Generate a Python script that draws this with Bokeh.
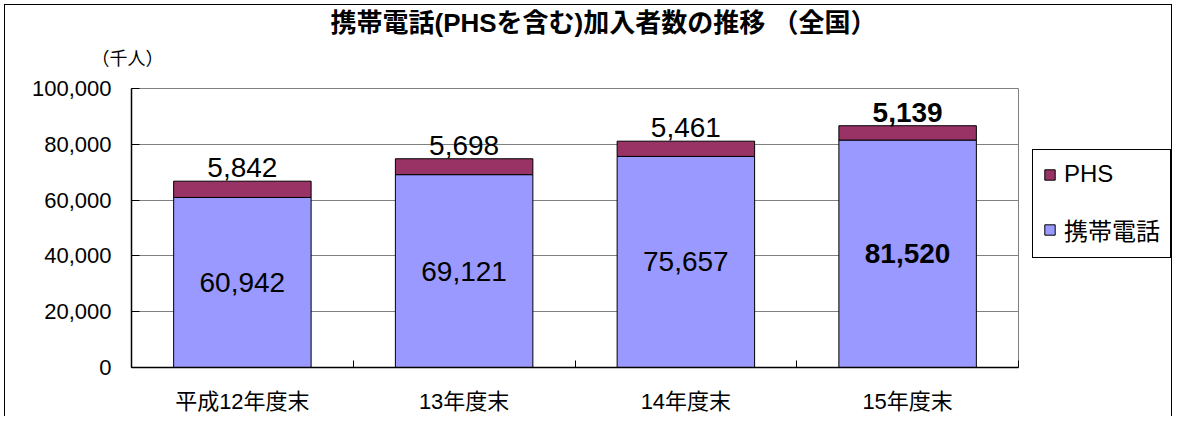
from bokeh.plotting import figure
from bokeh.layouts import row
from bokeh.models import (ColumnDataSource, Range1d, FixedTicker, NumeralTickFormatter,
                          LabelSet, Title, Legend, LegendItem)
from bokeh.core.properties import value, field
from bokeh.embed import file_html
from bokeh.resources import INLINE

categories = ["平成12年度末", "13年度末", "14年度末", "15年度末"]
mobile = [60942, 69121, 75657, 81520]
phs = [5842, 5698, 5461, 5139]
y_ticks = [0, 20000, 40000, 60000, 80000, 100000]

title_text = "携帯電話(PHSを含む)加入者数の推移 （全国）"
unit_text = "（千人）"
series_names = ["携帯電話", "PHS"]

BLUE = "#9999FF"
PURPLE = "#993366"
LAT = "Liberation Sans"
FONT = "'Liberation Sans', 'Noto Sans CJK JP'"

W, H = 1172, 416
W1 = 1030
ML, MT = 131, 88
MR = W1 - 1018
MB = H - 372

n = len(categories)
xs = [i + 0.5 for i in range(n)]
src = ColumnDataSource(dict(
    x=xs, cat=categories, mobile=mobile, phs=phs,
    mid=[m / 2 for m in mobile],
    top=[m + q for m, q in zip(mobile, phs)],
    mobile_lbl=[f"{v:,}" for v in mobile],
    phs_lbl=[f"{v:,}" for v in phs],
    style=["normal"] * (n - 1) + ["bold"],
))

p = figure(width=W1, height=H, output_backend="svg", toolbar_location=None,
           x_range=Range1d(0, n), y_range=Range1d(0, 100000),
           min_border_left=ML, min_border_right=MR, min_border_top=MT,
           min_border_bottom=MB, title=None)
p.background_fill_color = "white"
p.border_fill_color = None
p.outline_line_color = "#808080"
p.outline_line_width = 1

rs = p.vbar_stack(["mobile", "phs"], x="x", width=0.62, source=src,
                  fill_color=[BLUE, PURPLE], line_color="black", line_width=1)

# axes
p.xgrid.visible = False
p.ygrid.grid_line_color = "#808080"
p.ygrid.grid_line_width = 1

ya = p.yaxis[0]
ya.ticker = FixedTicker(ticks=y_ticks)
ya.formatter = NumeralTickFormatter(format="0,0")
ya.major_tick_in = 8
ya.major_tick_out = 0
ya.minor_tick_line_color = None
ya.axis_line_color = "black"
ya.axis_line_width = 1.5
ya.major_label_text_font = LAT
ya.major_label_text_font_size = "22px"
ya.major_label_text_color = "black"
ya.major_label_standoff = 20

xa = p.xaxis[0]
xa.ticker = FixedTicker(ticks=xs, minor_ticks=list(range(n + 1)))
xa.major_label_overrides = {x: c for x, c in zip(xs, categories)}
xa.major_tick_in = 0
xa.major_tick_out = 0
xa.major_tick_line_color = None
xa.minor_tick_in = 7
xa.minor_tick_out = 0
xa.minor_tick_line_color = "black"
xa.axis_line_color = "black"
xa.axis_line_width = 1.5
xa.major_label_text_font = FONT
xa.major_label_text_font_size = "22px"
xa.major_label_text_color = "black"
xa.major_label_standoff = 21

# value labels
mid_labels = LabelSet(x="x", y="mid", text="mobile_lbl", source=src,
                      text_align="center", text_baseline="middle",
                      text_font=value(LAT), text_font_size="28px",
                      text_font_style=field("style"), text_color="black")
top_labels = LabelSet(x="x", y="top", text="phs_lbl", source=src,
                      text_align="center", text_baseline="alphabetic", y_offset=4,
                      text_font=value(LAT), text_font_size="28px",
                      text_font_style=field("style"), text_color="black")
p.add_layout(mid_labels)
p.add_layout(top_labels)

# unit (inner) and title (outer) in the top panel
p.add_layout(Title(text=unit_text, align="left", offset=-40, standoff=39,
                   text_font=FONT, text_font_size="18px", text_font_style="normal",
                   text_color="black"), "above")
p.add_layout(Title(text=title_text, align="left", offset=199, standoff=-20,
                   text_font=FONT, text_font_size="26px", text_font_style="bold",
                   text_color="black"), "above")

# legend in a narrow companion figure at the right (proxies lie outside its view)
p2 = figure(width=W - W1, height=H, output_backend="svg", toolbar_location=None,
            x_axis_location=None, y_axis_location=None, min_border=0,
            x_range=Range1d(-2, -1), y_range=Range1d(0, 1))
p2.grid.visible = False
p2.outline_line_color = None
p2.border_fill_color = None
p2.background_fill_color = None
proxy_mob = p2.vbar(x="x", top="mobile", width=0.5, source=src,
                    fill_color=BLUE, line_color="black")
proxy_phs = p2.vbar(x="x", top="phs", width=0.5, source=src,
                    fill_color=PURPLE, line_color="black")

legend = Legend(items=[LegendItem(label=series_names[1], renderers=[proxy_phs]),
                       LegendItem(label=series_names[0], renderers=[proxy_mob])],
                location=(2, 109))
legend.border_line_color = "black"
legend.border_line_alpha = 1
legend.border_line_width = 1
legend.background_fill_color = "white"
legend.background_fill_alpha = 1
legend.label_text_font = FONT
legend.label_text_font_size = "24px"
legend.label_text_color = "black"
legend.glyph_width = 13
legend.glyph_height = 13
legend.label_standoff = 8
legend.padding = 10
legend.spacing = 24
legend.margin = 0
p2.add_layout(legend)

layout = row(p, p2, spacing=0)
layout.styles = {
    "background-color": "white",
    "background-image": "linear-gradient(black, black), linear-gradient(black, black), linear-gradient(black, black)",
    "background-size": "1px 100%, 1168px 1px, 1px 100%",
    "background-position": "4px 4px, 4px 4px, 1171px 4px",
    "background-repeat": "no-repeat",
}

open("out.html", "w").write(file_html(layout, INLINE))
